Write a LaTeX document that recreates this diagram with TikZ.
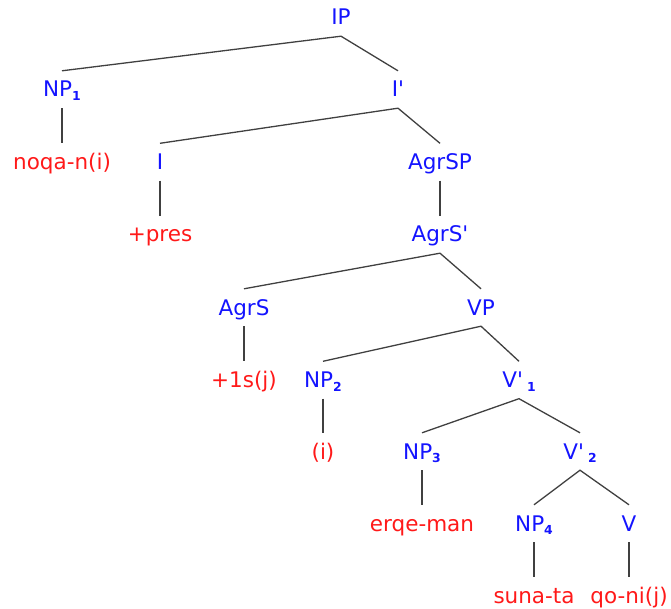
\documentclass[tikz,border=0pt]{standalone}
\usepackage{fontspec}
\setmainfont{DejaVu Sans}[Ligatures=TeXOff]
\usepackage{tikz}
\usetikzlibrary{positioning}
\newcommand{\ix}[1]{\raisebox{-3.7pt}{\fontsize{12.4}{13}\selectfont\bfseries #1}}

\begin{document}
\begin{tikzpicture}[x=1pt,y=-1pt,
  lbl/.style={font=\fontsize{21.5}{24}\selectfont,inner sep=0pt,text height=26pt,text depth=11pt,anchor=base},
  cat/.style={lbl,text={rgb,255:red,20;green,20;blue,255}},
  word/.style={lbl,text={rgb,255:red,255;green,25;blue,25}},
  edge/.style={line width=1.3pt,black!75}]
\useasboundingbox (0,0) rectangle (671,609);
% categories, one row every ~72px
\node[cat] (ip) at (341,25) {IP};
\node[cat] (np1) at (62,97) {NP\ix{1}};
\node[cat] (ibar) at (398,97) {I'};
\node[word] (noqa) at (62,169.5) {noqa-n(i)};
\node[cat] (infl) at (160,169.5) {I};
\node[cat] (agrsp) at (440,169.5) {AgrSP};
\node[word] (pres) at (160,242) {+pres};
\node[cat] (agrsbar) at (440,242) {AgrS'};
\node[cat] (agrs) at (244,315) {AgrS};
\node[cat] (vp) at (481,315) {VP};
\node[word] (agr) at (244,387.5) {+1s(j)};
\node[cat] (np2) at (323,387.5) {NP\ix{2}};
\node[cat] (vbar1) at (519,387.5) {V'\kern4pt\ix{1}};
\node[word] (pro) at (323,459) {(i)};
\node[cat] (np3) at (422,459) {NP\ix{3}};
\node[cat] (vbar2) at (580,459) {V'\kern4pt\ix{2}};
\node[word] (erqe) at (422,531) {erqe-man};
\node[cat] (np4) at (534,531) {NP\ix{4}};
\node[cat] (verb) at (629,531) {V};
\node[word] (suna) at (534,603) {suna-ta};
\node[word] (qoni) at (629,603) {qo-ni(j)};
% branches
\draw[edge] (np1.north) -- (ip.south) -- (ibar.north);
\draw[edge] (np1.south) -- (noqa.north);
\draw[edge] (infl.north) -- (ibar.south) -- (agrsp.north);
\draw[edge] (infl.south) -- (pres.north);
\draw[edge] (agrsp.south) -- (agrsbar.north);
\draw[edge] (agrs.north) -- (agrsbar.south) -- (vp.north);
\draw[edge] (agrs.south) -- (agr.north);
\draw[edge] (np2.north) -- (vp.south) -- (vbar1.north);
\draw[edge] (np2.south) -- (pro.north);
\draw[edge] (np3.north) -- (vbar1.south) -- (vbar2.north);
\draw[edge] (np3.south) -- (erqe.north);
\draw[edge] (np4.north) -- (vbar2.south) -- (verb.north);
\draw[edge] (np4.south) -- (suna.north);
\draw[edge] (verb.south) -- (qoni.north);
\end{tikzpicture}
\end{document}
